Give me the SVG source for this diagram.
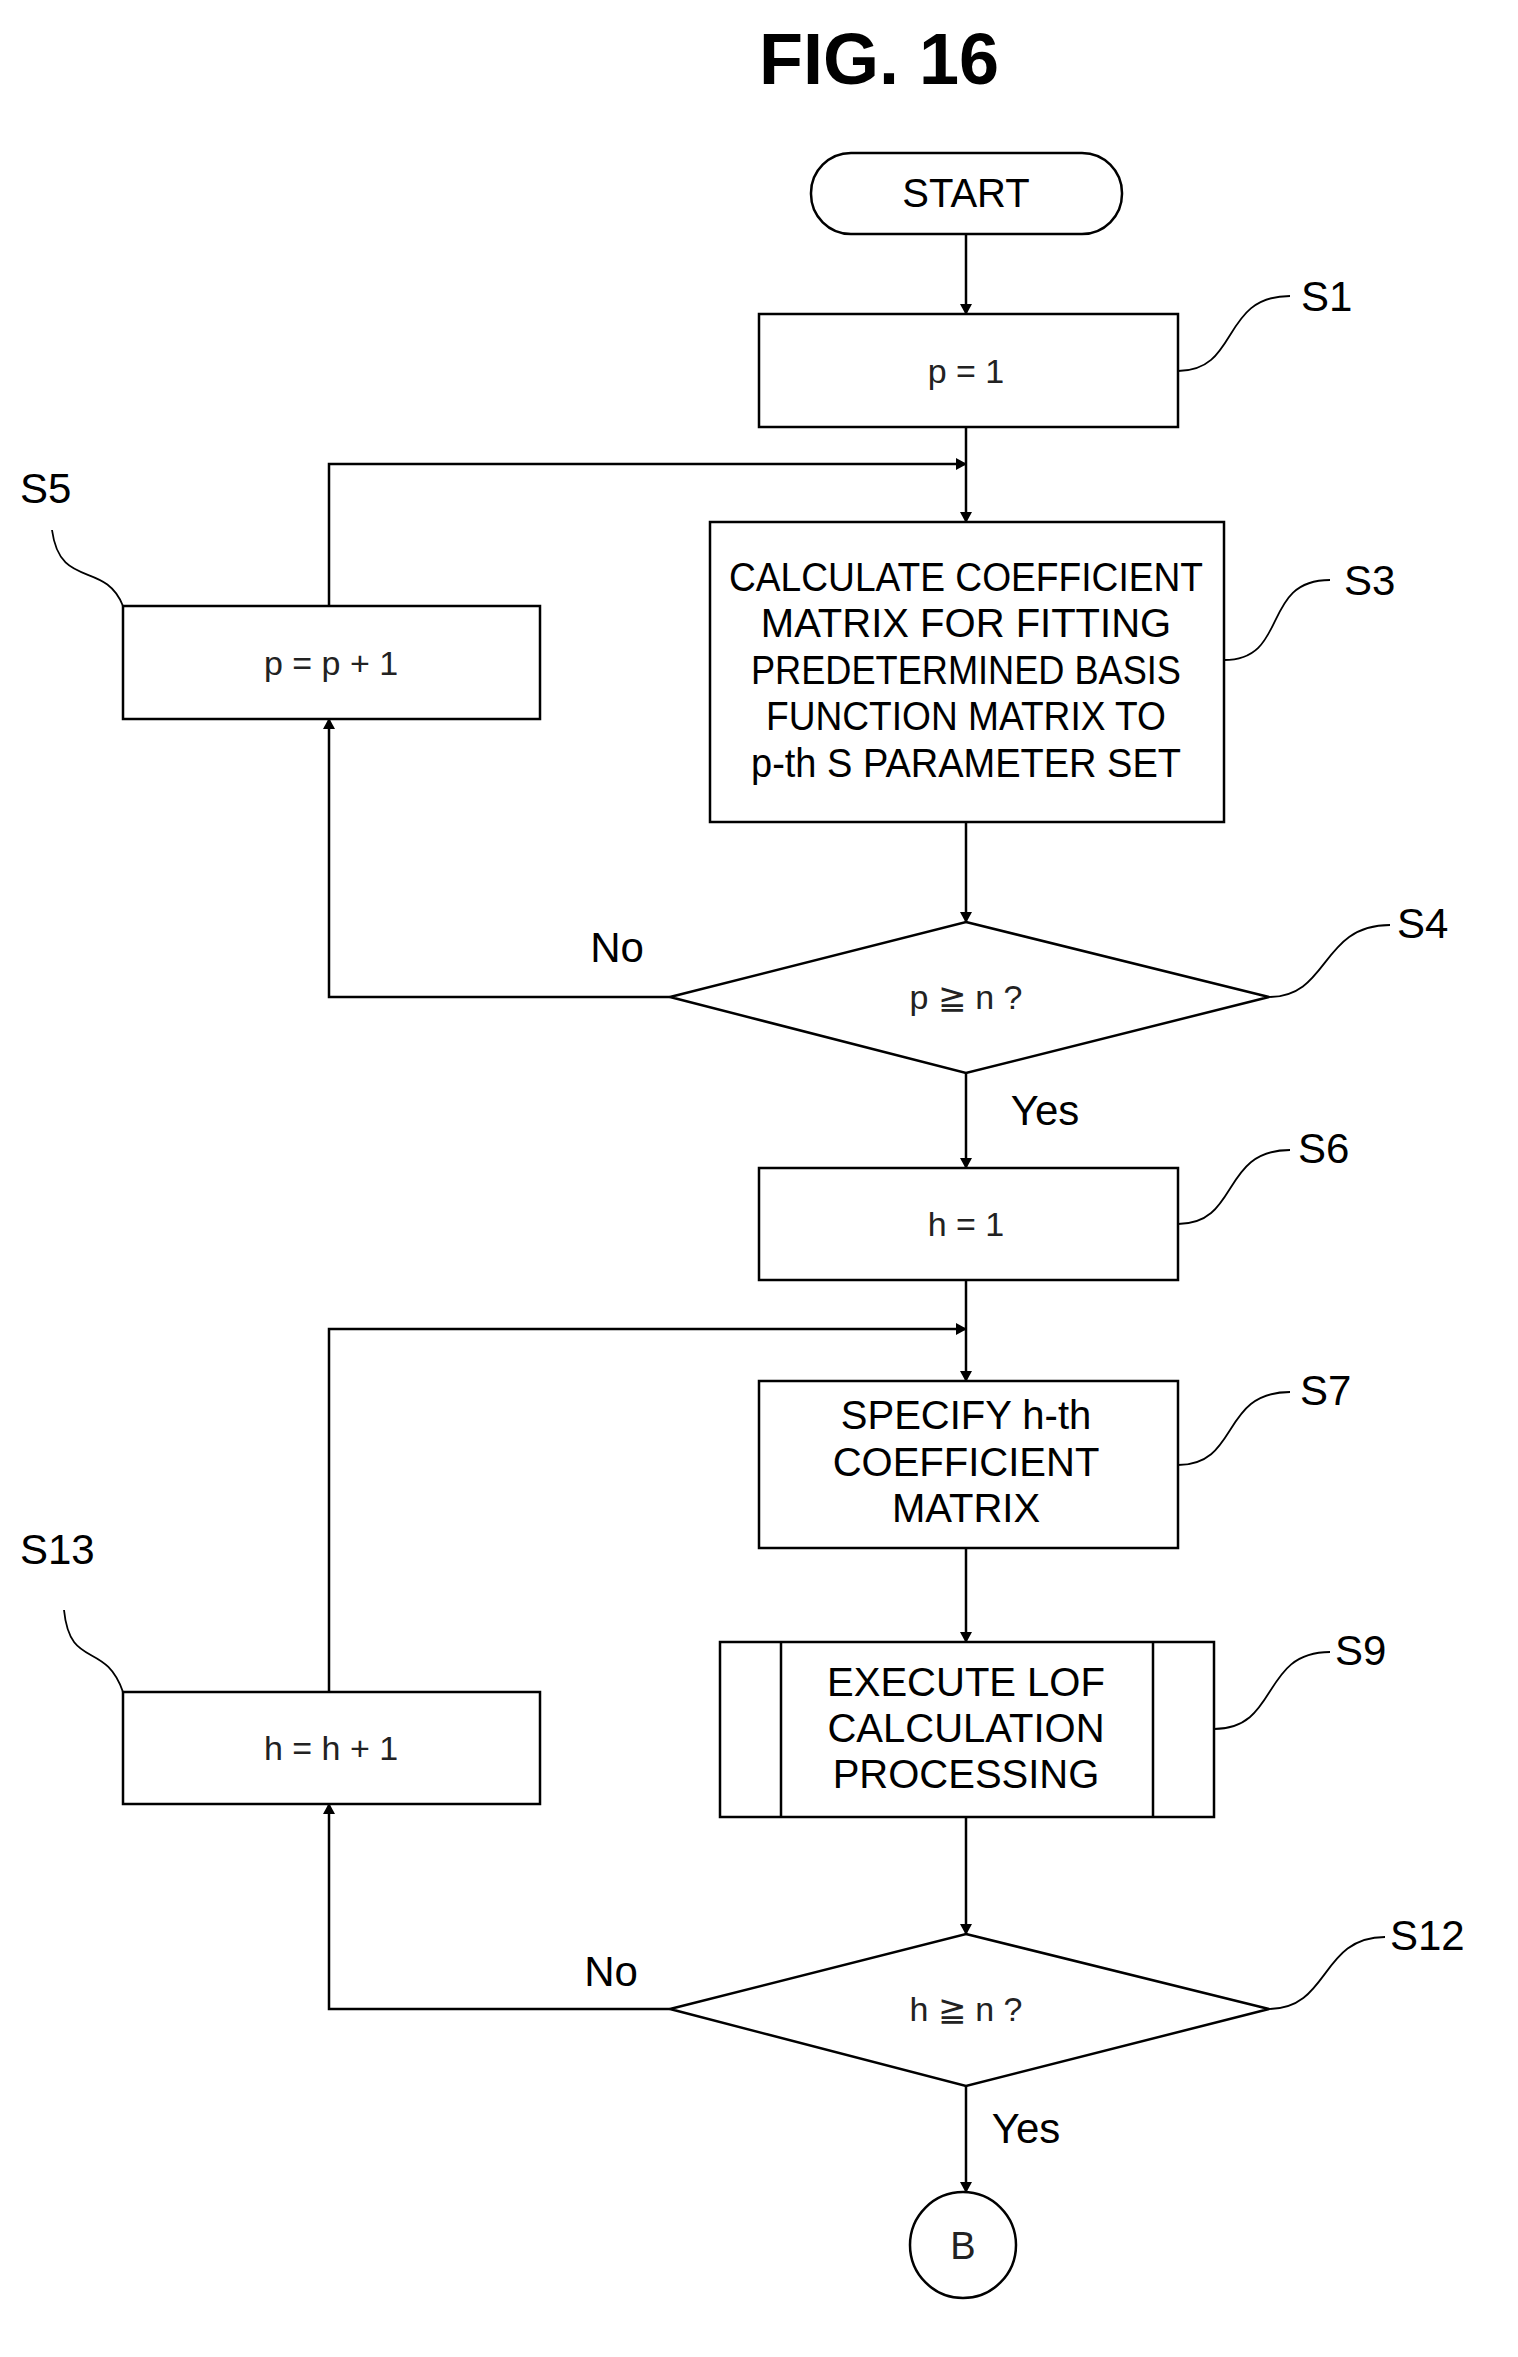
<svg xmlns="http://www.w3.org/2000/svg" width="1518" height="2357" viewBox="0 0 1518 2357">
<style>
.b{fill:#fff;stroke:#000;stroke-width:2.5}
.c{fill:none;stroke:#000;stroke-width:2.5}
.l{fill:none;stroke:#000;stroke-width:1.8}
.t{font-family:"Liberation Sans",Arial,sans-serif;font-size:40px;text-anchor:middle}
.s{font-family:"Liberation Sans",Arial,sans-serif;font-size:34px;text-anchor:middle;fill:#222}
.lb{font-family:"Liberation Sans",Arial,sans-serif;font-size:42px}
</style>
<defs><marker id="a" markerWidth="12" markerHeight="12" refX="10" refY="6" orient="auto" markerUnits="userSpaceOnUse"><path d="M0,0 L11,6 L0,12 z" fill="#000"/></marker></defs>
<rect width="1518" height="2357" fill="#fff"/>
<text x="879" y="84" class="t" style="font-size:72px;font-weight:bold">FIG. 16</text>
<g id="connectors">
<path class="c" d="M966 234 V314" marker-end="url(#a)"/>
<path class="c" d="M966 427 V522" marker-end="url(#a)"/>
<path class="c" d="M329 606 V464 H966" marker-end="url(#a)"/>
<path class="c" d="M966 822 V922" marker-end="url(#a)"/>
<path class="c" d="M670 997 H329 V719" marker-end="url(#a)"/>
<path class="c" d="M966 1073 V1168" marker-end="url(#a)"/>
<path class="c" d="M966 1280 V1381" marker-end="url(#a)"/>
<path class="c" d="M329 1692 V1329 H966" marker-end="url(#a)"/>
<path class="c" d="M966 1548 V1642" marker-end="url(#a)"/>
<path class="c" d="M966 1817 V1934" marker-end="url(#a)"/>
<path class="c" d="M670 2009 H329 V1804" marker-end="url(#a)"/>
<path class="c" d="M966 2086 V2192" marker-end="url(#a)"/>
<text x="617" y="962" class="lb" text-anchor="middle">No</text>
<text x="1045" y="1125" class="lb" text-anchor="middle">Yes</text>
<text x="611" y="1986" class="lb" text-anchor="middle">No</text>
<text x="1026" y="2143" class="lb" text-anchor="middle">Yes</text>
</g>
<g id="start"><rect class="b" x="811" y="153" width="311" height="81" rx="40"/><text x="966" y="207" class="t">START</text></g>
<g id="S1"><rect class="b" x="759" y="314" width="419" height="113"/><text x="966" y="383" class="s">p = 1</text>
<path class="l" d="M1178 371 C1240 371,1220 296,1290 296"/><text x="1301" y="311" class="lb">S1</text></g>
<g id="S3"><rect class="b" x="710" y="522" width="514" height="300"/>
<text class="t" x="966" y="591" textLength="474" lengthAdjust="spacingAndGlyphs">CALCULATE COEFFICIENT</text>
<text class="t" x="966" y="637">MATRIX FOR FITTING</text>
<text class="t" x="966" y="684" textLength="430" lengthAdjust="spacingAndGlyphs">PREDETERMINED BASIS</text>
<text class="t" x="966" y="730" textLength="400" lengthAdjust="spacingAndGlyphs">FUNCTION MATRIX TO</text>
<text class="t" x="966" y="777" textLength="430" lengthAdjust="spacingAndGlyphs">p-th S PARAMETER SET</text>
<path class="l" d="M1224 660 C1290 660,1260 580,1330 580"/><text x="1344" y="595" class="lb">S3</text></g>
<g id="S5"><rect class="b" x="123" y="606" width="417" height="113"/><text x="331" y="675" class="s">p = p + 1</text>
<path class="l" d="M123 606 C105 560,60 590,52 530"/><text x="20" y="503" class="lb">S5</text></g>
<g id="S4"><polygon class="b" points="966,922 1269,997 966,1073 670,997"/><text x="966" y="1009" class="s">p ≧ n ?</text>
<path class="l" d="M1269 997 C1330 997,1320 925,1390 925"/><text x="1397" y="938" class="lb">S4</text></g>
<g id="S6"><rect class="b" x="759" y="1168" width="419" height="112"/><text x="966" y="1236" class="s">h = 1</text>
<path class="l" d="M1178 1224 C1240 1224,1220 1150,1290 1150"/><text x="1298" y="1163" class="lb">S6</text></g>
<g id="S7"><rect class="b" x="759" y="1381" width="419" height="167"/>
<text class="t" x="966" y="1429">SPECIFY h-th</text><text class="t" x="966" y="1476">COEFFICIENT</text><text class="t" x="966" y="1522">MATRIX</text>
<path class="l" d="M1178 1465 C1240 1465,1220 1392,1290 1392"/><text x="1300" y="1405" class="lb">S7</text></g>
<g id="S9"><rect class="b" x="720" y="1642" width="494" height="175"/><path class="c" d="M781 1642 V1817 M1153 1642 V1817"/>
<text class="t" x="966" y="1696">EXECUTE LOF</text><text class="t" x="966" y="1742">CALCULATION</text><text class="t" x="966" y="1788">PROCESSING</text>
<path class="l" d="M1214 1729 C1280 1729,1260 1652,1330 1652"/><text x="1335" y="1665" class="lb">S9</text></g>
<g id="S13"><rect class="b" x="123" y="1692" width="417" height="112"/><text x="331" y="1760" class="s">h = h + 1</text>
<path class="l" d="M123 1692 C105 1640,70 1670,64 1610"/><text x="20" y="1564" class="lb">S13</text></g>
<g id="S12"><polygon class="b" points="966,1934 1269,2009 966,2086 670,2009"/><text x="966" y="2021" class="s">h ≧ n ?</text>
<path class="l" d="M1269 2009 C1330 2009,1320 1937,1385 1937"/><text x="1390" y="1950" class="lb">S12</text></g>
<g id="B"><circle class="b" cx="963" cy="2245" r="53"/><text x="963" y="2259" class="s" style="font-size:38px">B</text></g>
</svg>
